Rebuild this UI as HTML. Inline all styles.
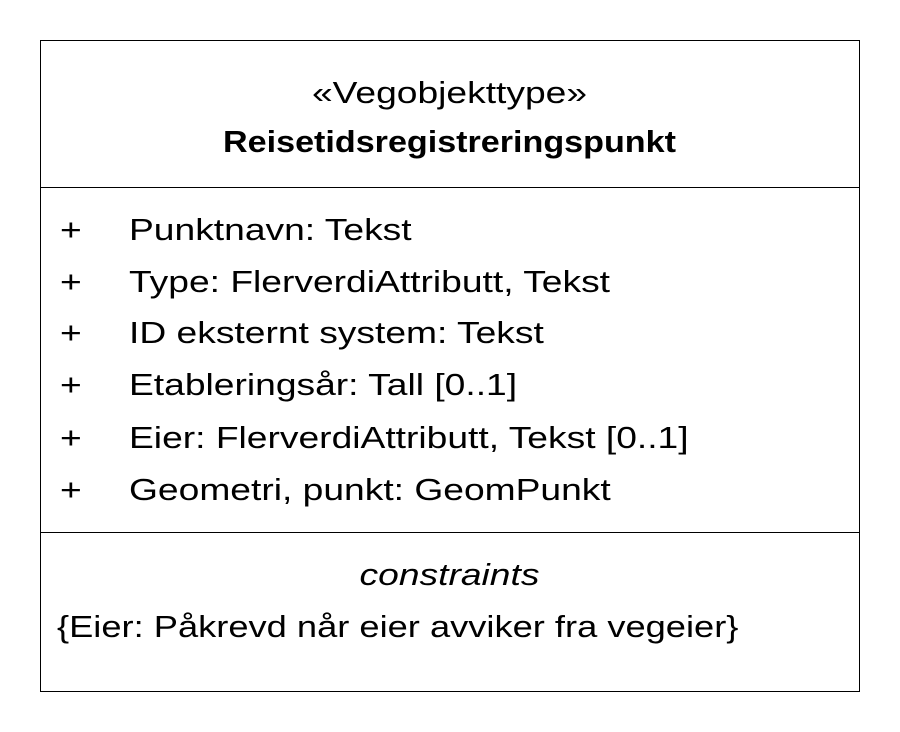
<!DOCTYPE html>
<html><head><meta charset="utf-8"><style>
html,body{margin:0;padding:0;background:#fff;width:900px;height:732px;overflow:hidden}
body{font-family:"Liberation Sans",sans-serif;color:#000;position:relative}
.box{position:absolute;left:40px;top:40px;width:818px;height:650px;border:1px solid #000}
.hr{position:absolute;left:40px;width:819px;height:1px;background:#000}
.t{position:absolute;white-space:nowrap;font-size:31px;line-height:36px;transform:scaleX(1.2);transform-origin:0 50%}
.c{left:40px;width:819px;text-align:center;transform-origin:50% 50%}
</style></head><body>
<div class="box"></div>
<div class="hr" style="top:187px"></div>
<div class="hr" style="top:532px"></div>
<div class="t c" style="top:75px">«Vegobjekttype»</div>
<div class="t c" style="top:124px;font-weight:bold;transform:scaleX(1.1)">Reisetidsregistreringspunkt</div>
<div class="t" style="left:60px;top:212px">+</div><div class="t" style="left:129px;top:212px">Punktnavn: Tekst</div>
<div class="t" style="left:60px;top:264px">+</div><div class="t" style="left:129px;top:264px">Type: FlerverdiAttributt, Tekst</div>
<div class="t" style="left:60px;top:315px">+</div><div class="t" style="left:129px;top:315px">ID eksternt system: Tekst</div>
<div class="t" style="left:60px;top:367px">+</div><div class="t" style="left:129px;top:367px">Etableringsår: Tall [0..1]</div>
<div class="t" style="left:60px;top:420px">+</div><div class="t" style="left:129px;top:420px">Eier: FlerverdiAttributt, Tekst [0..1]</div>
<div class="t" style="left:60px;top:472px">+</div><div class="t" style="left:129px;top:472px">Geometri, punkt: GeomPunkt</div>
<div class="t c" style="top:557px;font-style:italic">constraints</div>
<div class="t" style="left:57px;top:609px;transform:scaleX(1.17)">{Eier: Påkrevd når eier avviker fra vegeier}</div>
</body></html>
